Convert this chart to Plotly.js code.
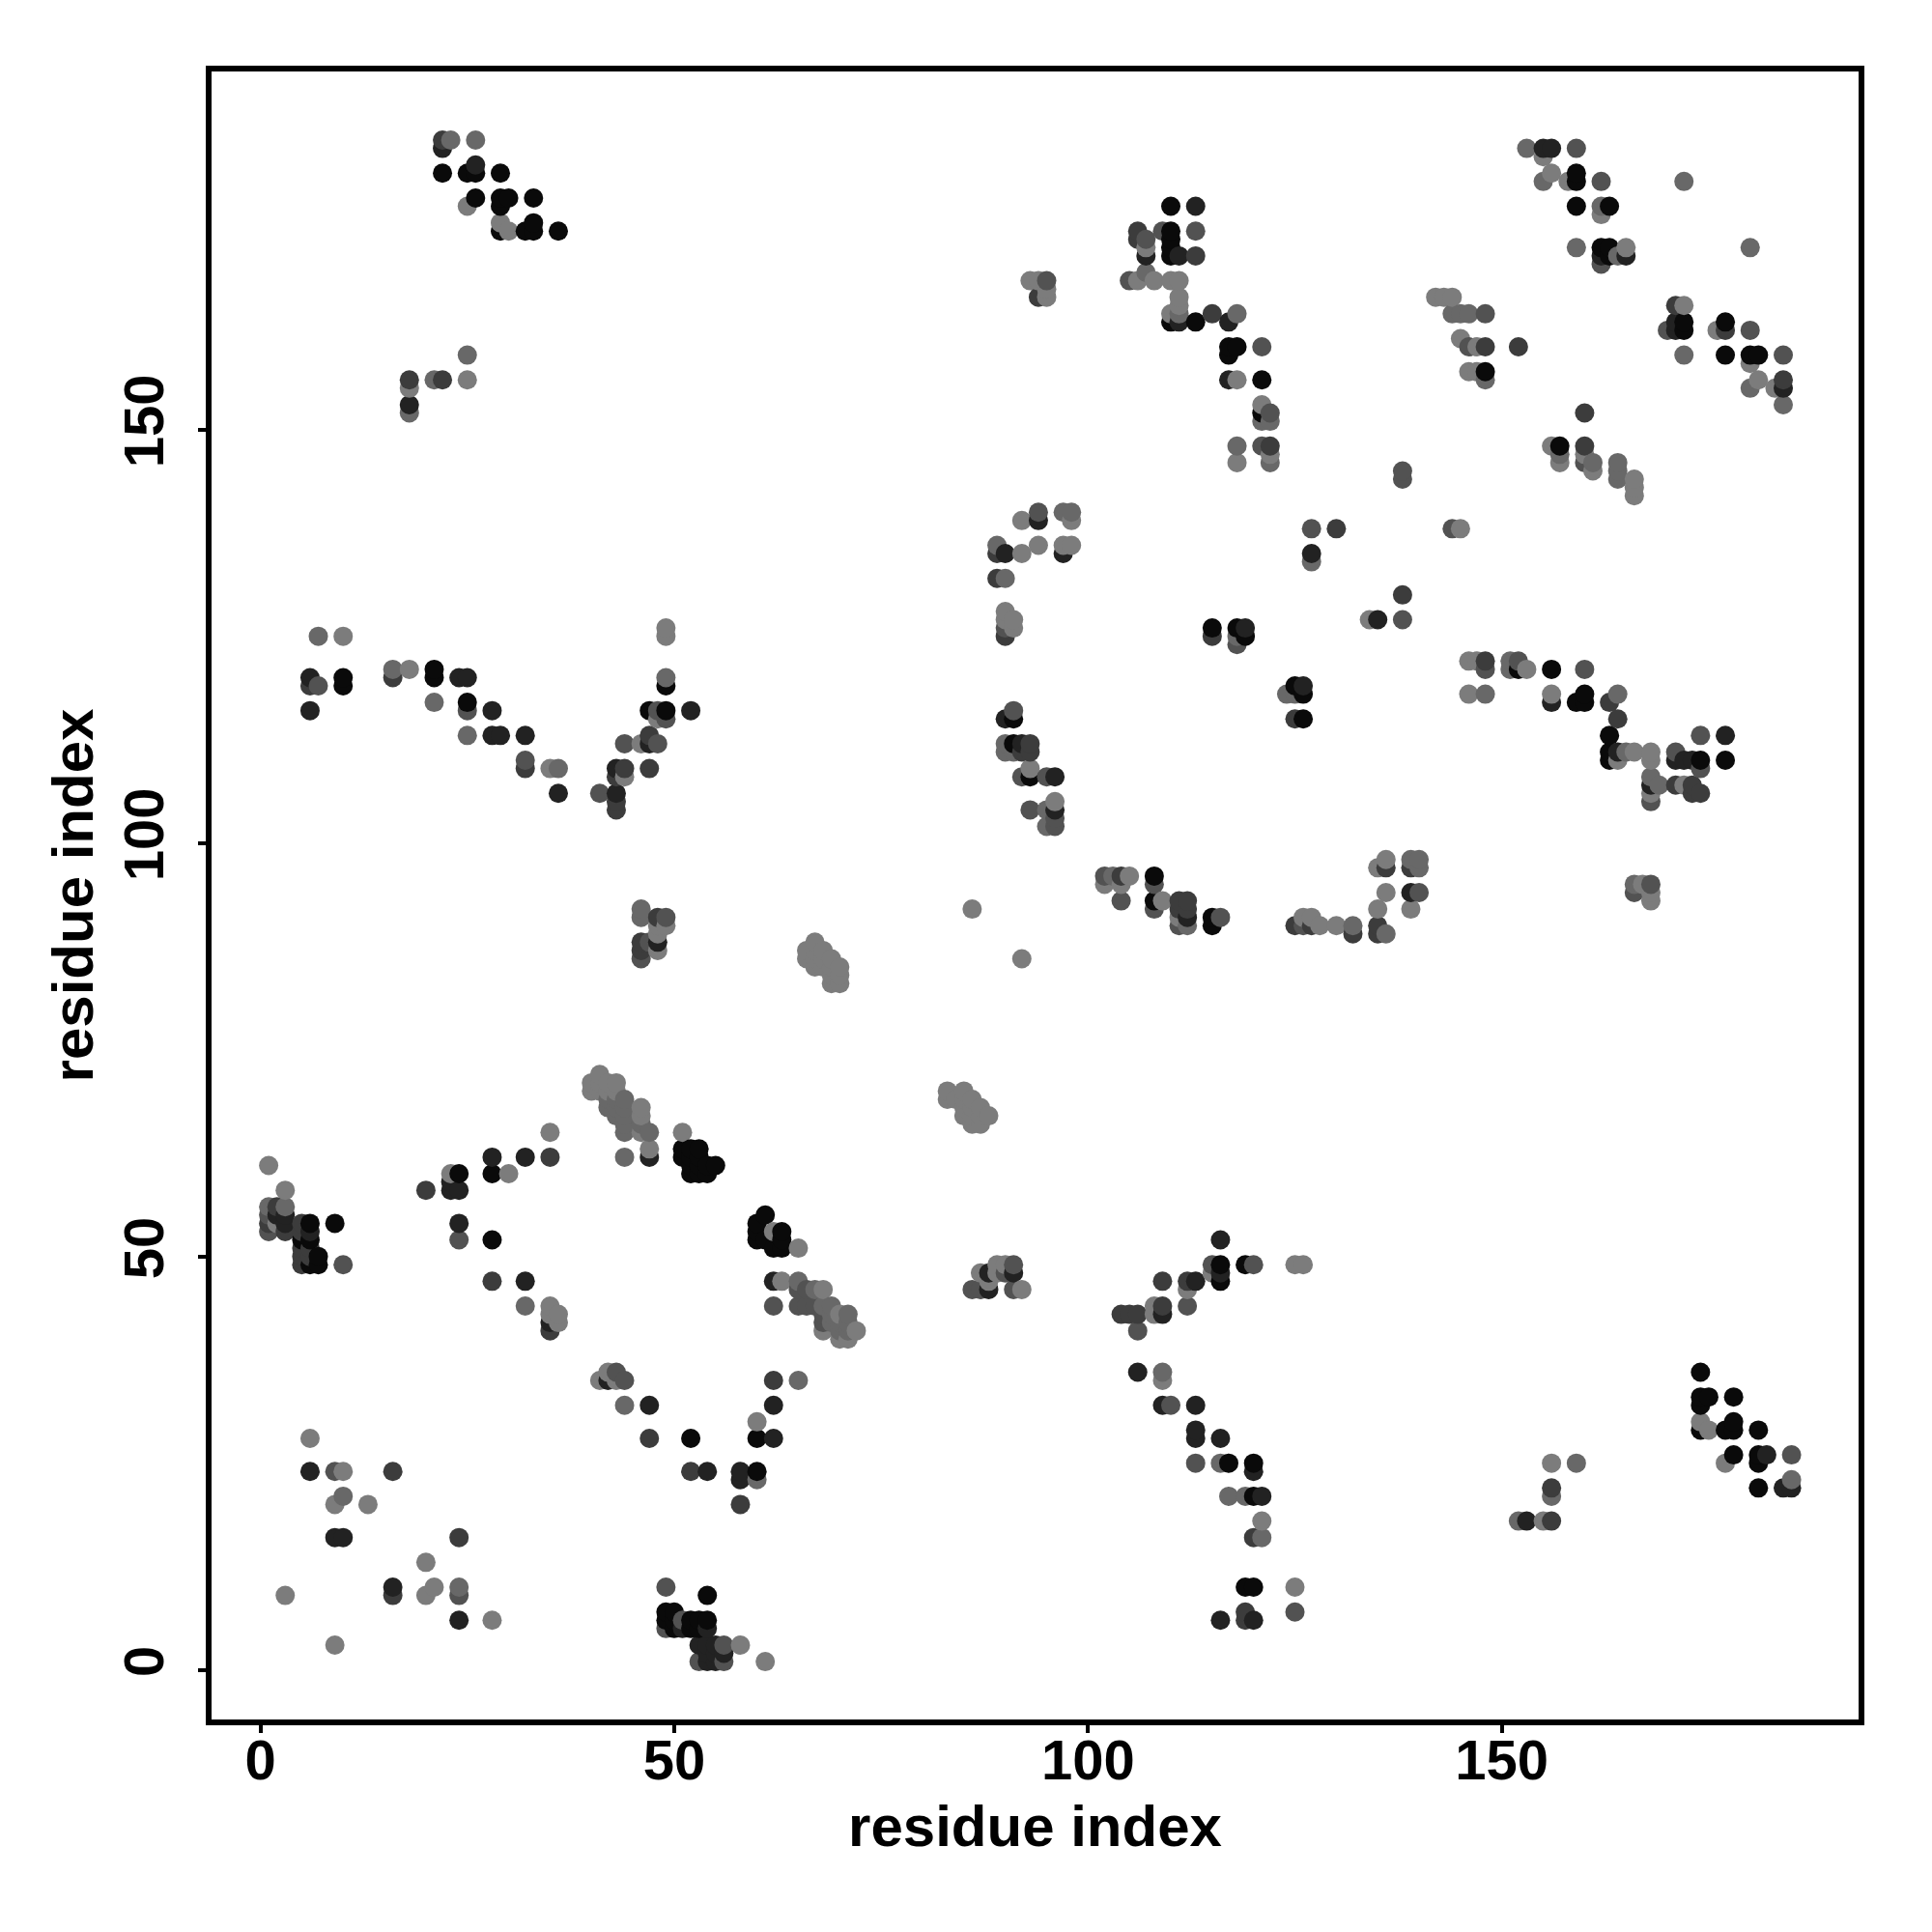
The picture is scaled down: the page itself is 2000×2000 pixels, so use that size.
<!DOCTYPE html>
<html>
<head>
<meta charset="utf-8">
<script src="https://cdn.plot.ly/plotly-3.0.1.min.js"></script>
<style>html,body{margin:0;padding:0;background:#fff}</style>
</head>
<body>
<div id="chart" style="width:2000px;height:2000px"></div>
<script>
const xTicks = [0, 50, 100, 150];
const yTicks = [0, 50, 100, 150];
const axisLabel = "residue index";
const bandGrey = [10, 34, 60, 82, 104, 124];

const contactsA = [[6,54],[5,52],[6,52],[7,50],[6,49],[7,49],[9,54],[24,60],[28,60],[28,52],[52,28],[60,28],[60,24],[54,9],[49,7],[50,7],[49,6],[50,6],[50,5],[52,6],[53,6],[54,6],[52,5],[53,5],[61,55],[60,54],[60,53],[60,52],[61,52],[63,53],[63,52],[63,51],[62,51],
[51,63],[52,63],[53,63],[51,62],[52,62],[53,62],[52,61],[53,61],[54,61],[55,61],[52,60],[53,60],[54,60],[25,117],[49,116],[47,116],[10,120],[21,120],
[116,49],[116,47],[117,25],[120,25],[120,21],[119,10],[120,10],[119,49],[91,115],[91,112],[93,108],[108,93],[108,96],[115,126],[118,126],[119,125],[115,91],[115,90],[125,119],[126,118],[126,115],
[152,121],[156,121],[159,117],[160,118],[160,117],[163,113],[163,111],[163,110],[174,110],[177,110],
[174,36],[174,33],[175,33],[174,32],[178,33],[174,29],[177,29],[178,30],[178,29],[181,29],[178,26],[181,26],[181,25],[181,22],
[22,181],[25,181],[26,181],[29,181],[26,178],[29,178],[30,178],[29,177],[33,178],[29,174],[32,174],[33,174],[33,175],[36,174],
[110,177],[110,174],[110,173],[110,172],[110,171],[110,163],[113,163],[117,160],[118,160],[117,159],[121,156],[121,152],
[159,181],[159,180],[159,177],[163,177],[162,172],[163,172],[163,171],[172,163],[172,162],[177,163],[177,159],[180,159],[49,119],[10,119],[21,121],[157,148],[148,157],[181,159]];

const contactsB = [[2,55],[3,55],[3,54],[6,53],[6,24],[10,16],[9,16],[16,10],[24,54],[24,6],[28,62],[32,62],[47,62],[32,47],[35,42],[47,32],[54,24],[58,24],[58,23],[62,28],[62,32],[62,47],
[42,35],[53,3],[54,3],[55,3],[54,2],[55,2],[56,2],[54,1],[55,1],[51,5],[54,5],
[23,59],[23,58],[24,58],[6,116],[6,120],[28,116],[28,113],[29,113],[32,113],[24,120],[25,120],[36,106],[43,106],[43,109],[47,112],[52,116],[48,88],
[106,36],[113,47],[109,43],[113,32],[113,29],[113,28],[116,28],[120,24],[121,21],[116,6],[120,6],[88,48],[91,48],[88,46],[116,52],[116,48],[109,32],
[90,115],[92,112],[90,135],[94,139],[96,108],[112,91],[96,104],[119,126],[126,119],[135,127],[156,117],[164,111],[171,110],[172,110],[173,110],[168,107],[139,94],[177,113],
[153,18],[182,26],[184,22],[185,22],[26,182],[22,184],[18,153],[107,171],[111,163],[111,171],[117,163],[117,156],
[155,184],[156,184],[162,171],[165,171],[171,163],[171,162],[184,155],[181,159],[127,135],[113,177],[97,135]];

const contactsC = [[1,54],[2,56],[3,53],[5,54],[5,53],[5,51],[5,50],[6,51],[6,50],[5,49],[20,58],[16,24],[16,9],[24,16],[28,47],[35,62],[47,28],[52,24],[58,20],[62,35],[104,43],[105,43],[106,43],[109,47],[112,47],[109,44],[35,41],
[6,119],[16,120],[32,109],[43,105],[43,104],[47,113],[47,109],[44,109],[43,108],[48,91],[46,88],[46,87],
[92,111],[93,111],[93,112],[104,96],[111,93],[112,93],[111,92],[112,92],[119,6],[119,7],[125,90],[127,90],[130,138],[120,16],[135,90],[135,89],[132,89],[136,97],[139,97],[148,122],[163,117],[164,115],[173,106],[174,106],[173,107],[171,107],
[156,22],[156,18],[22,185],[18,156],[22,156],[94,166],[106,174],[106,173],[113,171],[115,164],[122,148],[138,130],[89,135],[89,132],[152,160],[160,152],[171,165],[177,162],[184,156],[160,148],[90,125],[115,125],[125,115],[148,160]];

const contactsD = [[1,55],[1,53],[9,24],[10,49],[24,52],[24,9],[49,10],[62,44],[44,35],[43,36],[52,24],[54,2],[56,3],[53,1],[56,1],[49,5],[51,6],
[7,119],[41,106],[48,112],[49,115],[48,116],[25,116],[32,110],[44,112],[46,86],[49,91],[47,88],[49,116],
[86,46],[87,46],[91,49],[90,48],[91,46],[65,46],[66,46],[65,44],[66,44],[67,44],[68,43],[68,42],[106,41],[112,44],[116,91],[108,95],[108,92],[93,104],[104,93],[102,96],[91,116],[111,90],[113,25],[110,32],[115,49],[120,49],[92,108],[95,108],[125,7],[126,90],
[96,103],[96,102],[138,144],[138,127],[144,138],[127,138],[148,121],[152,122],[160,121],[174,113],[171,111],[174,109],[168,105],[166,94],[168,95],[140,94],[185,26],[105,168],[121,160],[113,174],[107,173],[109,174],[122,152],[121,148],[95,168],[94,140],[146,160],[148,164],[159,184],[162,180],[162,170],[170,162],[180,162],[184,159],[160,146],[90,126],[118,124],[138,145]];

const contactsE = [[1,56],[3,56],[10,21],[24,10],[44,32],[32,44],[60,23],[65,35],[65,47],[109,36],[119,21],[117,21],[121,16],[125,7],[116,25],[44,62],
[7,125],[16,121],[21,117],[25,113],[43,109],[36,109],[44,112],[46,92],[46,91],[49,120],[47,65],[46,66],[44,66],[44,65],[44,67],[43,67],[43,68],[42,68],[44,68],[42,69],[43,69],[44,69],
[67,46],[68,44],[69,44],[69,43],[69,42],[70,42],[71,42],[71,43],[70,41],[71,41],[103,96],[111,90],[112,90],[90,111],[90,112],[91,111],[95,102],[95,104],[124,118],[125,118],[118,125],[132,90],[136,89],[139,98],[140,98],[140,97],[166,95],[168,108],[169,107],[164,118],[165,111],[148,118],
[151,121],[151,122],[152,18],[159,25],[156,21],[185,23],[23,185],[26,185],[21,156],[25,159],[18,152],[107,169],[118,164],[111,164],[122,151],[121,151],[118,148],[122,146],[97,140],[98,140],[145,164],[146,164],[144,164],[153,184],[155,180],[162,177],[159,172],[164,171],[172,180],[172,159],[180,155],[180,172],[184,153],[157,147],[161,146],[164,146],[164,145],[164,144],[148,156],[89,136],[90,132],[127,134]];

const contactsF = [[1,61],[3,58],[2,54],[23,60],[30,60],[6,28],[10,24],[9,20],[13,20],[20,13],[21,10],[20,9],[3,9],[28,6],[9,3],[24,10],[60,30],[35,44],[36,43],[36,42],[35,43],[41,35],[42,36],[43,35],[58,3],[61,1],[63,47],
[68,46],[10,125],[18,121],[35,109],[44,108],[46,112],[48,115],[49,126],[49,125],[48,90],[49,90],[48,89],[48,87],[35,65],[51,65],[47,63],
[40,71],[40,70],[41,72],[41,71],[41,70],[42,71],[42,70],[43,71],[43,70],[46,68],[46,67],[46,65],[65,51],[62,53],[72,41],[70,40],[71,40],[70,43],[68,41],
[87,48],[89,48],[90,49],[89,49],[88,47],[92,46],[108,44],[108,43],[112,46],[115,48],[109,35],[125,49],[126,49],[125,10],[121,18],[109,93],
[67,88],[66,87],[67,87],[68,87],[66,86],[67,86],[68,86],[69,86],[67,85],[68,85],[69,85],[70,85],[69,84],[70,84],[69,83],[70,83],
[83,70],[85,70],[83,69],[84,69],[85,69],[86,69],[85,68],[86,68],[87,68],[85,67],[86,67],[87,67],[88,67],[86,66],[87,66],
[86,92],[92,86],[90,128],[90,127],[91,127],[91,126],[93,109],[96,105],[105,96],[102,95],[104,95],[111,91],[126,91],[127,91],[128,90],[130,90],[135,92],[135,97],[136,98],[136,94],[139,92],
[134,127],[146,122],[147,122],[146,118],[153,121],[156,118],[164,110],[166,111],[168,111],[168,110],[168,106],[172,107],[167,95],[168,94],[168,93],
[155,18],[156,25],[174,30],[175,29],[177,25],[18,155],[25,156],[25,177],[29,175],[30,174],[93,168],[94,168],[95,167],[95,166],[106,168],[107,172],[108,168],[110,168],[111,168],[111,166],[111,165],[110,164],[118,156],[121,153],[122,147],[118,146],
[92,139],[98,139],[94,136],[98,136],[97,136],[92,135],[142,166],[143,166],[144,166],[145,161],[147,160],[146,157],[147,157],[148,156],
[156,181],[158,180],[155,183],[162,176],[165,172],[172,165],[176,162],[180,158],[181,156],[183,155],[156,148],[157,146],[160,147],[161,145],[166,144],[166,143],[166,142],[145,138],[118,125]];

const bands = [contactsF, contactsE, contactsD, contactsC, contactsB, contactsA];
const bandShade = [bandGrey[5], bandGrey[4], bandGrey[3], bandGrey[2], bandGrey[1], bandGrey[0]];

const seen = new Map();
bands.forEach(function (band, b) {
  band.forEach(function (p) { seen.set(p[0] + "," + p[1], {x: p[0], y: p[1], g: bandShade[b]}); });
});
const pts = Array.from(seen.values()).sort(function (a, b) { return a.x - b.x || a.y - b.y; });

const trace = {
  type: "scatter",
  mode: "markers",
  x: pts.map(function (p) { return p.x; }),
  y: pts.map(function (p) { return p.y; }),
  marker: {
    size: 20,
    color: pts.map(function (p) { return "rgb(" + p.g + "," + p.g + "," + p.g + ")"; }),
    line: {width: 0}
  },
  hoverinfo: "x+y"
};

const axisBase = {
  tickmode: "array",
  ticks: "outside",
  ticklen: 8,
  tickwidth: 4,
  tickcolor: "#000",
  showgrid: false,
  zeroline: false,
  showline: true,
  mirror: true,
  linecolor: "#000",
  linewidth: 6,
  tickfont: {family: "Liberation Sans", size: 58, color: "#000", weight: 700}
};

const layout = {
  width: 2000,
  height: 2000,
  paper_bgcolor: "#fff",
  plot_bgcolor: "#fff",
  showlegend: false,
  margin: {l: 219, r: 76, t: 74, b: 220, pad: 0},
  font: {family: "Liberation Sans"},
  xaxis: Object.assign({}, axisBase, {
    range: [-5.9, 193.1],
    tickvals: xTicks,
    ticktext: xTicks.map(String),
    ticklabelstandoff: -22,
    title: {text: axisLabel, standoff: 18, font: {family: "Liberation Sans", size: 60, color: "#000", weight: 700}}
  }),
  yaxis: Object.assign({}, axisBase, {
    range: [-6.0, 193.3],
    tickvals: yTicks,
    ticktext: yTicks.map(String),
    tickangle: -90,
    ticklabelstandoff: 13,
    title: {text: axisLabel, standoff: 2, font: {family: "Liberation Sans", size: 60, color: "#000", weight: 700}}
  })
};

Plotly.newPlot("chart", [trace], layout, {displayModeBar: false, responsive: false});
</script>
</body>
</html>
